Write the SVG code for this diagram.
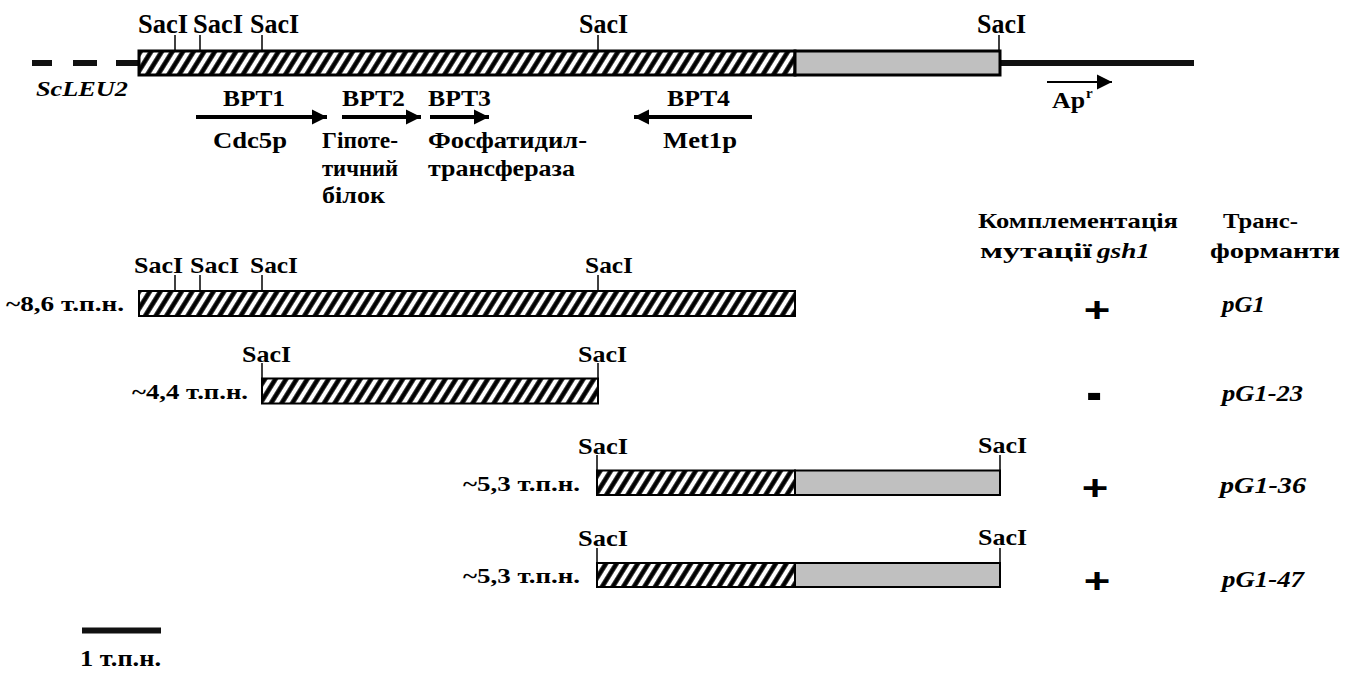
<svg xmlns="http://www.w3.org/2000/svg" width="1348" height="673" viewBox="0 0 1348 673">
<style>
.t{font-family:"Liberation Serif","Times New Roman",serif;font-weight:bold;fill:#000}
.i{font-style:italic}
.s{font-family:"Liberation Sans",Arial,sans-serif;font-weight:bold;fill:#000}
.tick{stroke:#000;stroke-width:1.5}
.hb{fill:url(#hatch);stroke:#000;stroke-width:2}
.gb{fill:#c0c0c0;stroke:#000;stroke-width:2}
.arr{stroke:#000;stroke-width:4;fill:none;marker-end:url(#ah)}
</style>
<defs>
<pattern id="hatch" patternUnits="userSpaceOnUse" width="9" height="9" patternTransform="rotate(32)">
<rect width="9" height="9" fill="#fff"/>
<line x1="2.5" y1="-1" x2="2.5" y2="10" stroke="#000" stroke-width="4.6"/>
</pattern>
<marker id="ah" markerUnits="userSpaceOnUse" markerWidth="16" markerHeight="16" refX="15" refY="8" orient="auto">
<path d="M0,0.5 L15,8 L0,15.5 z" fill="#000"/>
</marker>
</defs>
<rect width="1348" height="673" fill="#fff"/>

<g id="top-map">
<g stroke="#111" stroke-width="6">
<line x1="32" y1="63" x2="52" y2="63"/>
<line x1="73" y1="63" x2="97" y2="63"/>
<line x1="116" y1="63" x2="139" y2="63"/>
<line x1="1000" y1="63" x2="1194" y2="63"/>
</g>
<rect x="139" y="51" width="656" height="24" fill="url(#hatch)" stroke="#000" stroke-width="3"/>
<rect x="795" y="51" width="205" height="24" fill="#c0c0c0" stroke="#000" stroke-width="3"/>
<g class="tick">
<line x1="175" y1="35" x2="175" y2="51"/>
<line x1="200" y1="35" x2="200" y2="51"/>
<line x1="262" y1="35" x2="262" y2="51"/>
<line x1="598" y1="35" x2="598" y2="51"/>
<line x1="999" y1="35" x2="999" y2="51"/>
</g>
<g class="t" font-size="27">
<text x="138" y="33" textLength="50" lengthAdjust="spacingAndGlyphs">SacI</text>
<text x="193" y="33" textLength="50" lengthAdjust="spacingAndGlyphs">SacI</text>
<text x="250" y="33" textLength="49" lengthAdjust="spacingAndGlyphs">SacI</text>
<text x="579" y="33" textLength="49" lengthAdjust="spacingAndGlyphs">SacI</text>
<text x="977" y="33" textLength="49" lengthAdjust="spacingAndGlyphs">SacI</text>
</g>
<text class="t i" x="36" y="96" font-size="21" textLength="92" lengthAdjust="spacingAndGlyphs">ScLEU2</text>
</g>

<g id="genes">
<g id="bpt1">
<text class="t" x="223" y="106" font-size="23" textLength="62" lengthAdjust="spacingAndGlyphs">BPT1</text>
<text class="t" x="213" y="148" font-size="23" textLength="74" lengthAdjust="spacingAndGlyphs">Cdc5p</text>
</g>
<g id="bpt2">
<text class="t" x="342" y="106" font-size="23" textLength="63" lengthAdjust="spacingAndGlyphs">BPT2</text>
<text class="t" x="322" y="148" font-size="23" textLength="76" lengthAdjust="spacingAndGlyphs">Гіпоте-</text>
<text class="t" x="322" y="176" font-size="23" textLength="76" lengthAdjust="spacingAndGlyphs">тичний</text>
<text class="t" x="322" y="203" font-size="23" textLength="63" lengthAdjust="spacingAndGlyphs">білок</text>
</g>
<g id="bpt3">
<text class="t" x="428" y="106" font-size="23" textLength="63" lengthAdjust="spacingAndGlyphs">BPT3</text>
<text class="t" x="428" y="148" font-size="23" textLength="159" lengthAdjust="spacingAndGlyphs">Фосфатидил-</text>
<text class="t" x="428" y="176" font-size="23" textLength="147" lengthAdjust="spacingAndGlyphs">трансфераза</text>
</g>
<g id="bpt4">
<text class="t" x="667" y="106" font-size="23" textLength="63" lengthAdjust="spacingAndGlyphs">BPT4</text>
<text class="t" x="663" y="148" font-size="23" textLength="74" lengthAdjust="spacingAndGlyphs">Met1p</text>
</g>
<g id="apr">
<text class="t" x="1052" y="108" font-size="23" textLength="33" lengthAdjust="spacingAndGlyphs">Ap</text>
<text class="t" x="1086" y="98" font-size="15">r</text>
</g>
</g>

<g id="connectors">
<line class="arr" x1="196" y1="117" x2="327" y2="117"/>
<line class="arr" x1="342" y1="117" x2="421" y2="117"/>
<line class="arr" x1="430" y1="117" x2="489" y2="117"/>
<line class="arr" x1="752" y1="117" x2="634" y2="117"/>
<line x1="1047" y1="82" x2="1112" y2="82" stroke="#000" stroke-width="2" marker-end="url(#ah)"/>
</g>

<g id="headers">
<text class="t" x="978" y="228" font-size="21" textLength="200" lengthAdjust="spacingAndGlyphs">Комплементація</text>
<text class="t" x="980" y="258" font-size="21" textLength="112" lengthAdjust="spacingAndGlyphs">мутації</text>
<text class="t i" x="1097" y="258" font-size="21" textLength="53" lengthAdjust="spacingAndGlyphs">gsh1</text>
<text class="t" x="1223" y="228" font-size="21" textLength="75" lengthAdjust="spacingAndGlyphs">Транс-</text>
<text class="t" x="1210" y="258" font-size="21" textLength="130" lengthAdjust="spacingAndGlyphs">форманти</text>
</g>

<g id="row-pG1">
<rect class="hb" x="139" y="291" width="656" height="25"/>
<g class="tick">
<line x1="175" y1="275" x2="175" y2="291"/>
<line x1="200" y1="275" x2="200" y2="291"/>
<line x1="262" y1="275" x2="262" y2="291"/>
<line x1="598" y1="275" x2="598" y2="291"/>
</g>
<g class="t" font-size="24">
<text x="134" y="273" textLength="49" lengthAdjust="spacingAndGlyphs">SacI</text>
<text x="190" y="273" textLength="49" lengthAdjust="spacingAndGlyphs">SacI</text>
<text x="250" y="273" textLength="48" lengthAdjust="spacingAndGlyphs">SacI</text>
<text x="585" y="273" textLength="48" lengthAdjust="spacingAndGlyphs">SacI</text>
<text x="6" y="311" font-size="22" textLength="118" lengthAdjust="spacingAndGlyphs">~8,6 т.п.н.</text>
<text class="i" x="1222" y="312" textLength="43" lengthAdjust="spacingAndGlyphs">pG1</text>
</g>
<text class="s" transform="translate(1097,310) scale(1.3,1)" x="0" y="12" font-size="35" text-anchor="middle">+</text>
</g>

<g id="row-pG1-23">
<rect class="hb" x="262" y="378.5" width="336" height="25"/>
<g class="tick">
<line x1="262" y1="363" x2="262" y2="379"/>
<line x1="598" y1="363" x2="598" y2="379"/>
</g>
<g class="t" font-size="24">
<text x="242" y="362" textLength="49" lengthAdjust="spacingAndGlyphs">SacI</text>
<text x="578" y="362" textLength="49" lengthAdjust="spacingAndGlyphs">SacI</text>
<text x="132" y="399" font-size="22" textLength="116" lengthAdjust="spacingAndGlyphs">~4,4 т.п.н.</text>
<text class="i" x="1222" y="401" textLength="81" lengthAdjust="spacingAndGlyphs">pG1-23</text>
</g>
<text class="s" transform="translate(1094,397) scale(1.35,1.7)" x="0" y="9" font-size="35" text-anchor="middle">-</text>
</g>

<g id="row-pG1-36">
<rect class="hb" x="597" y="470.5" width="198" height="24.5"/>
<rect class="gb" x="795" y="470.5" width="205" height="24.5"/>
<g class="tick">
<line x1="597" y1="455" x2="597" y2="471"/>
<line x1="1000" y1="455" x2="1000" y2="471"/>
</g>
<g class="t" font-size="24">
<text x="578" y="454" textLength="50" lengthAdjust="spacingAndGlyphs">SacI</text>
<text x="978" y="453" textLength="49" lengthAdjust="spacingAndGlyphs">SacI</text>
<text x="463" y="491" font-size="22" textLength="117" lengthAdjust="spacingAndGlyphs">~5,3 т.п.н.</text>
<text class="i" x="1220" y="493" textLength="86" lengthAdjust="spacingAndGlyphs">pG1-36</text>
</g>
<text class="s" transform="translate(1095,488) scale(1.3,1)" x="0" y="12" font-size="35" text-anchor="middle">+</text>
</g>

<g id="row-pG1-47">
<rect class="hb" x="597" y="563" width="198" height="24"/>
<rect class="gb" x="795" y="563" width="205" height="24"/>
<g class="tick">
<line x1="597" y1="548" x2="597" y2="563"/>
<line x1="1000" y1="548" x2="1000" y2="563"/>
</g>
<g class="t" font-size="24">
<text x="578" y="546" textLength="50" lengthAdjust="spacingAndGlyphs">SacI</text>
<text x="978" y="545" textLength="49" lengthAdjust="spacingAndGlyphs">SacI</text>
<text x="463" y="583" font-size="22" textLength="117" lengthAdjust="spacingAndGlyphs">~5,3 т.п.н.</text>
<text class="i" x="1222" y="587" textLength="82" lengthAdjust="spacingAndGlyphs">pG1-47</text>
</g>
<text class="s" transform="translate(1097,581) scale(1.3,1)" x="0" y="12" font-size="35" text-anchor="middle">+</text>
</g>

<g id="scale-bar">
<rect x="82" y="627.5" width="79" height="6" fill="#111"/>
<text class="t" x="80" y="666" font-size="24" textLength="81" lengthAdjust="spacingAndGlyphs">1 т.п.н.</text>
</g>
</svg>
